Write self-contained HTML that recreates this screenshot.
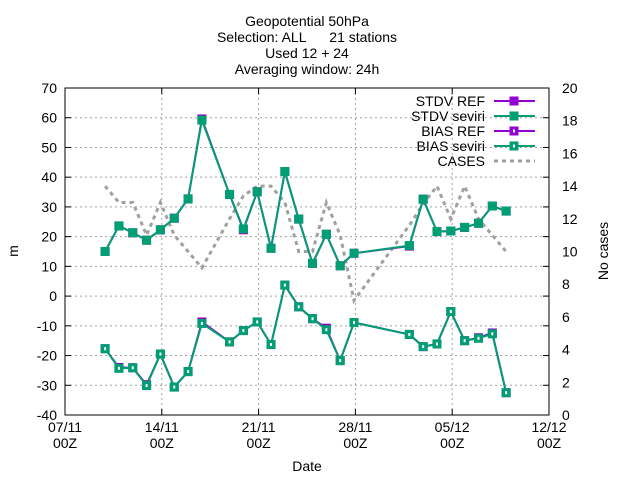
<!DOCTYPE html>
<html><head><meta charset="utf-8"><style>
body{margin:0;background:#fff}
svg{display:block;font-family:"Liberation Sans",sans-serif}
text{white-space:pre}
</style></head><body>
<svg id="c" width="640" height="480"></svg>
<script>
const days=[2.9,3.9,4.9,5.9,6.9,7.9,8.9,9.9,11.9,12.9,13.9,14.9,15.9,16.9,17.9,18.9,19.9,20.9,24.9,25.9,26.9,27.9,28.9,29.9,30.9,31.9];
const stdvRef=[15,23.6,21.3,18.8,22.3,26.2,32.7,59.6,34.2,22.3,35.1,16.1,41.9,25.9,11,20.8,10.2,14.4,16.8,32.6,21.7,21.9,23.1,24.5,30.3,28.6];
const stdvSev=[15,23.6,21.3,18.8,22.3,26.2,32.7,59.2,34.2,22.6,35.1,16.1,41.9,25.9,11,20.8,10.2,14.4,17.0,32.6,21.7,21.9,23.1,24.5,30.3,28.6];
const biasRef=[-17.7,-24.0,-24.1,-29.8,-19.5,-30.6,-25.4,-8.7,-15.4,-11.6,-8.7,-16.3,3.7,-3.6,-7.6,-10.8,-21.7,-8.9,-12.9,-17.0,-16.1,-5.2,-15.0,-14.0,-12.4,-32.5];
const biasSev=[-17.7,-24.3,-24.1,-30.1,-19.5,-30.6,-25.4,-9.2,-15.4,-11.6,-8.7,-16.3,3.7,-3.6,-7.6,-11.3,-21.7,-8.9,-12.9,-17.0,-16.1,-5.2,-15.0,-14.2,-12.7,-32.5];
const cases=[14,13,13,11,13,11,10,9,12,13.4,14,14,13,10,10,13,11,7,11.6,12.9,14,12,14,12,11,10];
const yTicks=[-40,-30,-20,-10,0,10,20,30,40,50,60,70];
const y2Ticks=[0,2,4,6,8,10,12,14,16,18,20];
const xTickDays=[0,7,14,21,28,35];
const xTickLabels=["07/11","14/11","21/11","28/11","05/12","12/12"];

const L=65,R=549,T=88,B=415;
const X=d=>L+d*(R-L)/35;
const Y=v=>B-(v+40)*(B-T)/110;
const Y2=v=>B-v*(B-T)/20;
const svg=document.getElementById('c');
const NS='http://www.w3.org/2000/svg';
function mk(t,a,p){const e=document.createElementNS(NS,t);for(const k in a)e.setAttribute(k,a[k]);(p||svg).appendChild(e);return e;}
function txt(s,x,y,anchor,size,p){const e=mk('text',{x:x,y:y,'text-anchor':anchor,'font-size':size||14,fill:'#000'},p);e.textContent=s;return e;}

const title=["Geopotential 50hPa","Selection: ALL      21 stations","Used 12 + 24","Averaging window: 24h"];
title.forEach((s,i)=>{const e=txt(s,307,26+i*16,'middle',14);

});

const grid=mk('g',{});


yTicks.forEach(v=>{if(v>-40&&v<70)mk('line',{x1:L,x2:R,y1:Y(v),y2:Y(v),stroke:'#a0a0a0','stroke-dasharray':'2,3','stroke-width':1},grid);});
xTickDays.forEach(d=>{if(d>0&&d<35)mk('line',{x1:X(d),x2:X(d),y1:T,y2:B,stroke:'#a0a0a0','stroke-dasharray':'2,3','stroke-width':1},grid);});

const yax=mk('g',{});


yTicks.forEach(v=>{mk('line',{x1:L,x2:L+6,y1:Y(v),y2:Y(v),stroke:'#000'},yax);mk('line',{x1:R,x2:R-6,y1:Y(v),y2:Y(v),stroke:'#000'},yax);txt(String(v),57,Y(v)+5,'end',14,yax);});
const y2ax=mk('g',{});


y2Ticks.forEach(v=>{txt(String(v),562,Y2(v)+5,'start',14,y2ax);});
const xax=mk('g',{});


xTickDays.forEach((d,i)=>{mk('line',{x1:X(d),x2:X(d),y1:B,y2:B-6,stroke:'#000'},xax);mk('line',{x1:X(d),x2:X(d),y1:T,y2:T+6,stroke:'#000'},xax);txt(xTickLabels[i],X(d),432,'middle',14,xax);txt('00Z',X(d),448,'middle',14,xax);});
const xt=txt('Date',307,471,'middle',14);


const yt=txt('m',0,0,'middle',14);yt.setAttribute('transform','translate(18,251) rotate(-90)');


const y2t=txt('No cases',0,0,'middle',14);y2t.setAttribute('transform','translate(608,251) rotate(-90)');


const frame=mk('rect',{x:L,y:T,width:R-L,height:B-T,fill:'none',stroke:'#000'});



function series(vals,yf,color,name,marker,dash){
 const g=mk('g',{});
 
 
 const pts=vals.map((v,i)=>X(days[i])+','+yf(v)).join(' ');
 mk('polyline',{points:pts,fill:'none',stroke:color,'stroke-width':dash?3:2,'stroke-dasharray':dash||'none'},g);
 if(marker)vals.forEach((v,i)=>{const x=X(days[i]),y=yf(v);
  const r=mk('rect',{x:x-4.5,y:y-4.5,width:9,height:9,fill:color},g);
  
  
  if(marker==='box')mk('rect',{x:x-1,y:y-1.5,width:2,height:3,fill:'#fff'},g);});
 return g;}
series(cases,Y2,'#a0a0a0','cases-line',null,'4,4');
series(stdvRef,Y,'#9400d3','stdv-ref-line','full');
series(biasRef,Y,'#9400d3','bias-ref-line','box');
series(stdvSev,Y,'#009e73','stdv-seviri-line','full');
series(biasSev,Y,'#009e73','bias-seviri-line','box');

const leg=mk('g',{});


const legNames=["STDV REF","STDV seviri","BIAS REF","BIAS seviri","CASES"];
const legCols=['#9400d3','#009e73','#9400d3','#009e73','#a0a0a0'];
legNames.forEach((n,i)=>{const y=101+i*15;
 const t=txt(n,485,y+5,'end',14,leg);
 
 
 if(i<4){mk('line',{x1:494,x2:535,y1:y,y2:y,stroke:legCols[i],'stroke-width':2},leg);mk('rect',{x:509.5,y:y-4.5,width:9,height:9,fill:legCols[i]},leg);if(i>=2)mk('rect',{x:513,y:y-1.5,width:2,height:3,fill:'#fff'},leg);}
 else mk('line',{x1:494,x2:535,y1:y,y2:y,stroke:legCols[i],'stroke-width':3,'stroke-dasharray':'4,4'},leg);
});
</script>
</body></html>
